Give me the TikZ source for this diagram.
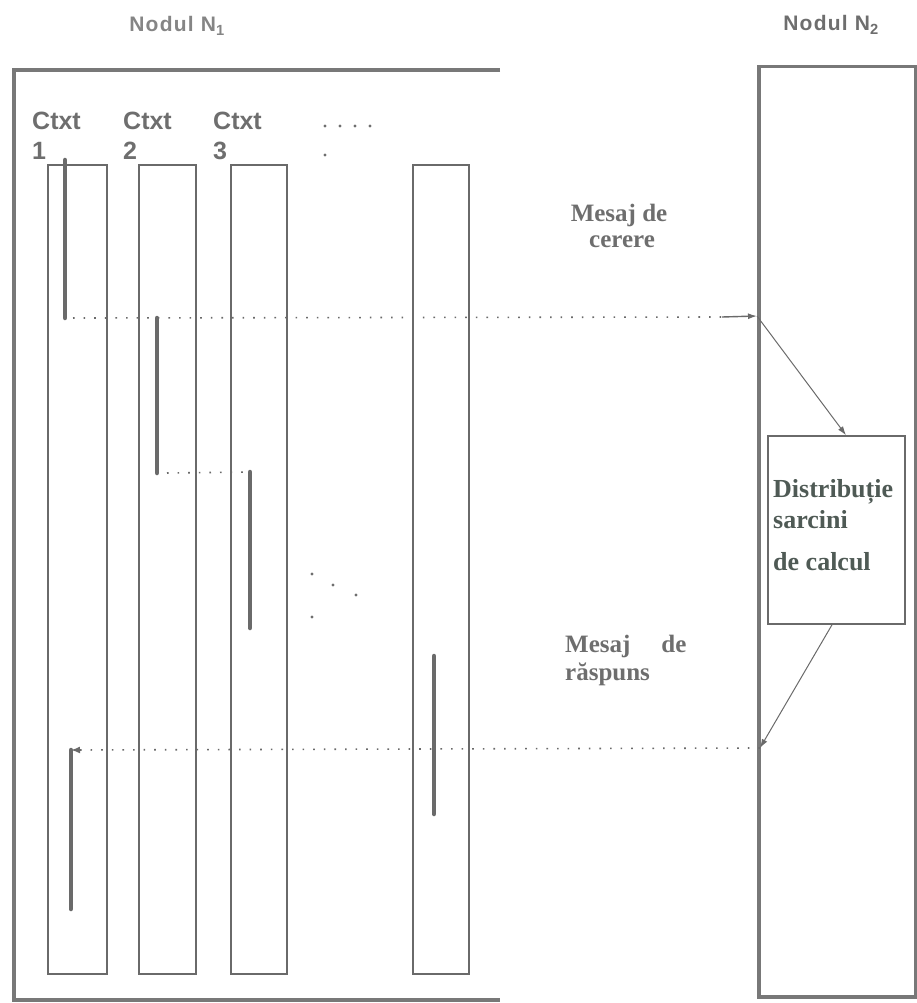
\documentclass[tikz,border=0pt]{standalone}
\usepackage{fontspec}
\setmainfont{Liberation Serif}
\setsansfont{Liberation Sans}
\usetikzlibrary{arrows.meta,calc}
\definecolor{linegray}{HTML}{6A6A6A}
\definecolor{boxgray}{HTML}{787878}
\definecolor{txtgray}{HTML}{6E6E6E}
\definecolor{lighttxt}{HTML}{858585}
\definecolor{disttxt}{HTML}{4F5A55}
\begin{document}
\begin{tikzpicture}[x=1pt,y=-1pt,
  outerbox/.style={draw=boxgray, line width=3.5pt},
  colbox/.style={draw=linegray, line width=1.8pt, minimum height=809pt, inner sep=0pt},
  distbox/.style={draw=linegray, line width=1.6pt, minimum width=137pt, minimum height=188pt, inner sep=0pt},
  bar/.style={draw=linegray, line width=4.5pt, line cap=round},
  dotline/.style={draw=linegray, line width=1.6pt, dash pattern=on 1.6pt off 9pt},
  thinarr/.style={draw=linegray, line width=1pt, -{Latex[length=9pt,width=6pt]}},
  dotarr/.style={dotline, -{Latex[length=9pt,width=7pt]}},
  sanslbl/.style={font=\sffamily\bfseries\fontsize{25}{30}\selectfont, text=txtgray, inner sep=0pt, anchor=base west},
  toplbl/.style={font=\sffamily\bfseries\fontsize{21}{24}\selectfont\addfontfeatures{LetterSpace=6}, inner sep=0pt, anchor=base},
  serlbl/.style={font=\rmfamily\bfseries\fontsize{25}{30}\selectfont, text=txtgray, inner sep=0pt},
  distlbl/.style={font=\rmfamily\bfseries\fontsize{26}{30}\selectfont, text=disttxt, inner sep=0pt, anchor=base west},
  pt/.style={fill=txtgray}
]
\useasboundingbox (0,0) rectangle (917,1003);

% node N1 outer frame
\draw[outerbox] (500,70) -- (14,70) -- (14,1000) -- (500,1000);
% node N2 frame
\node[outerbox, minimum width=157pt, minimum height=930pt, inner sep=0pt, anchor=north west] (n2) at (757,65) {};

% titles
\node[toplbl, text=lighttxt] (t1) at (177,32) {Nodul N\textsubscript{1}};
\node[toplbl, text=txtgray] (t2) at (831,31) {Nodul N\textsubscript{2}};

% context columns
\node[colbox, minimum width=59pt] (c1) at (77.5,569.5) {};
\node[colbox, minimum width=57pt] (c2) at (167.5,569.5) {};
\node[colbox, minimum width=56pt] (c3) at (259,569.5) {};
\node[colbox, minimum width=56pt] (c4) at (441,569.5) {};

% context labels
\node[sanslbl] (k1a) at (32,130) {Ctxt};
\node[sanslbl] (k1b) at (32,160) {1};
\node[sanslbl] (k2a) at (123,130) {Ctxt};
\node[sanslbl] (k2b) at (123,160) {2};
\node[sanslbl] (k3a) at (213,130) {Ctxt};
\node[sanslbl] (k3b) at (213,160) {3};

% dots
\foreach \x in {325,340,355,370} \fill[pt] (\x,126) circle (1.7pt);
\fill[pt] (325,155) circle (1.7pt);
\fill[pt] (312,574) circle (1.7pt);
\fill[pt] (333,585) circle (1.7pt);
\fill[pt] (356,595) circle (1.7pt);
\fill[pt] (312,617) circle (1.7pt);

% activity bars
\coordinate (b1s) at (65,160);  \coordinate (b1e) at (65,318);
\coordinate (b2s) at (157,318); \coordinate (b2e) at (157,473);
\coordinate (b3s) at (250,472); \coordinate (b3e) at (250,628);
\coordinate (b4s) at (434,656); \coordinate (b4e) at (434,814);
\coordinate (b5s) at (71,750);  \coordinate (b5e) at (71,909);
\draw[bar] (b1s) -- (b1e);
\draw[bar] (b2s) -- (b2e);
\draw[bar] (b3s) -- (b3e);
\draw[bar] (b4s) -- (b4e);
\draw[bar] (b5s) -- (b5e);

% distribution box
\node[distbox] (dist) at (836.5,530) {};
\node[distlbl] (d1) at (773,497) {Distribuție};
\node[distlbl] (d2) at (773,528) {sarcini};
\node[distlbl] (d3) at (773,570) {de calcul};

% message labels
\node[serlbl, anchor=base] (m1) at (619,221) {Mesaj de};
\node[serlbl, anchor=base] (m2) at (622,247) {cerere};
\node[serlbl, anchor=base west] (r1) at (565,652) {Mesaj\hspace{31pt}de};
\node[serlbl, anchor=base west] (r2) at (565,680) {răspuns};

% connectors
\coordinate (req) at (722,317);
\coordinate (n2a) at (757,316);
\coordinate (n2b) at (760,748);
\draw[dotline] (b1e) ++(8,0) -- (req);
\draw[thinarr, line width=1.4pt] (req) -- (n2a);
\draw[dotline] (b2e) ++(10,0) -- (b3s);
\draw[thinarr] (n2a) -- ([xshift=9.5pt]dist.north);
\draw[thinarr] ([xshift=-4.5pt]dist.south) -- (n2b);
\draw[dotarr] (n2b) -- (b5s);
\end{tikzpicture}
\end{document}
